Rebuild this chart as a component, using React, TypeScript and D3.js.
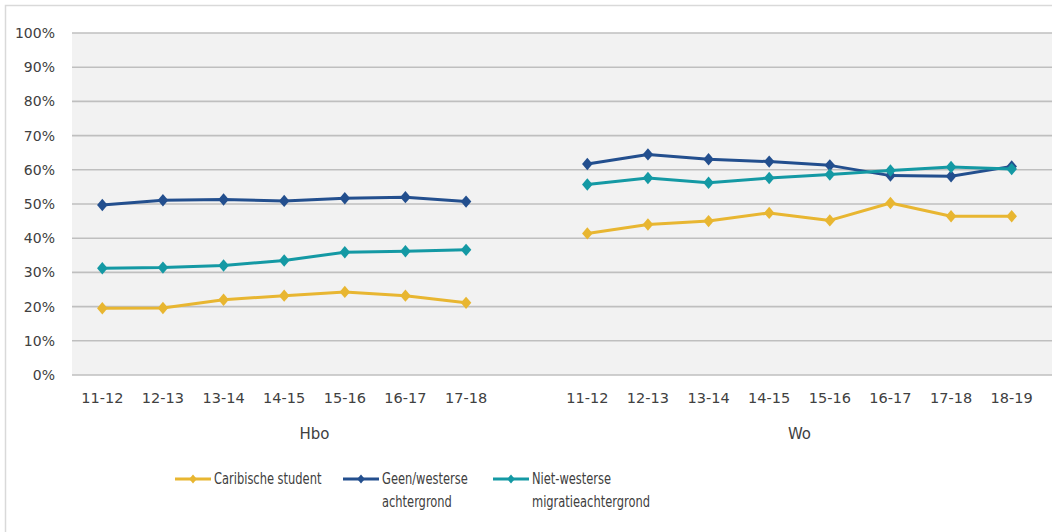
import React from "react";
import * as d3 from "d3";

const hboYears = ["11-12", "12-13", "13-14", "14-15", "15-16", "16-17", "17-18"];
const woYears = ["11-12", "12-13", "13-14", "14-15", "15-16", "16-17", "17-18", "18-19"];
const groups = ["Hbo", "Wo"];
const yTicks = [0, 10, 20, 30, 40, 50, 60, 70, 80, 90, 100];

const seriesNames = ["Caribische student", "Geen/westerse achtergrond", "Niet-westerse migratieachtergrond"];
const seriesColors = ["#E8B631", "#234F8E", "#1499A4"];

const caribHbo = [19.5, 19.6, 22.0, 23.2, 24.3, 23.2, 21.1];
const geenHbo = [49.7, 51.1, 51.3, 50.9, 51.7, 52.0, 50.7];
const nietHbo = [31.2, 31.4, 32.0, 33.5, 35.9, 36.2, 36.6];

const caribWo = [41.4, 44.0, 45.0, 47.4, 45.2, 50.3, 46.4, 46.4];
const geenWo = [61.7, 64.5, 63.1, 62.4, 61.3, 58.3, 58.1, 61.0];
const nietWo = [55.7, 57.6, 56.2, 57.6, 58.6, 59.8, 60.8, 60.2];

const W = 1052;
const H = 532;
const plotLeft = 72;
const plotRight = 1042;
const plotTop = 33;
const plotBottom = 375;
const textColor = "#404040";
const font = "'DejaVu Sans', sans-serif";
const narrowFont = "'DejaVu Sans Condensed', 'DejaVu Sans', sans-serif";

export default function App() {
  // slots: Hbo years, one blank slot, Wo years
  const slots = [
    ...hboYears.map((y) => "Hbo|" + y),
    "gap",
    ...woYears.map((y) => "Wo|" + y),
  ];
  const x = d3.scaleBand<string>().domain(slots).range([plotLeft, plotRight]);
  const cx = (k: string) => (x(k) as number) + x.bandwidth() / 2;
  const y = d3.scaleLinear().domain([0, 100]).range([plotBottom, plotTop]);

  const hboSeries = [caribHbo, geenHbo, nietHbo];
  const woSeries = [caribWo, geenWo, nietWo];

  const line = d3
    .line<[number, number]>()
    .x((d) => d[0])
    .y((d) => d[1]);

  const diamond = (px: number, py: number, r: number) =>
    `M${px},${py - r}L${px + r * 0.85},${py}L${px},${py + r}L${px - r * 0.85},${py}Z`;

  const renderSeries = (vals: number[], years: string[], grp: string, color: string, key: string) => {
    const pts: [number, number][] = vals.map((v, i) => [cx(grp + "|" + years[i]), y(v)]);
    return (
      <g key={key}>
        <path d={line(pts) || ""} fill="none" stroke={color} strokeWidth={3} strokeLinejoin="round" />
        {pts.map((p, i) => (
          <path key={i} d={diamond(p[0], p[1], 6.2)} fill={color} />
        ))}
      </g>
    );
  };

  const hboCenter = (cx("Hbo|" + hboYears[0]) + cx("gap")) / 2;
  const woCenter = (cx("Wo|" + woYears[0]) + cx("Wo|" + woYears[woYears.length - 1])) / 2;

  const legendItems = [
    { x: 175, lines: ["Caribische student"] },
    { x: 343, lines: ["Geen/westerse", "achtergrond"] },
    { x: 493, lines: ["Niet-westerse", "migratieachtergrond"] },
  ];

  return (
    <svg
      width={W}
      height={H}
      style={{ position: "fixed", left: 0, top: 0, background: "#fff" }}
      fontFamily={font}
    >
      <rect x={5.5} y={5.5} width={W + 20} height={H + 20} fill="#fff" stroke="#D9D9D9" strokeWidth={1.5} />
      <rect x={plotLeft} y={plotTop} width={W - plotLeft} height={plotBottom - plotTop} fill="#F2F2F2" />
      {yTicks.map((t) => (
        <g key={t}>
          <line x1={plotLeft} x2={W} y1={y(t)} y2={y(t)} stroke="#BFBFBF" strokeWidth={1.6} />
          <text x={55} y={y(t)} dy="0.36em" textAnchor="end" fontSize={14} fill={textColor}>
            {t}%
          </text>
        </g>
      ))}
      {hboYears.map((yr) => (
        <text key={"h" + yr} x={cx("Hbo|" + yr)} y={398} dy="0.36em" textAnchor="middle" fontSize={14.5} fill={textColor}>
          {yr}
        </text>
      ))}
      {woYears.map((yr) => (
        <text key={"w" + yr} x={cx("Wo|" + yr)} y={398} dy="0.36em" textAnchor="middle" fontSize={14.5} fill={textColor}>
          {yr}
        </text>
      ))}
      <text x={hboCenter} y={434} dy="0.36em" textAnchor="middle" fontSize={15} fill={textColor}>
        {groups[0]}
      </text>
      <text x={woCenter} y={434} dy="0.36em" textAnchor="middle" fontSize={15} fill={textColor}>
        {groups[1]}
      </text>
      {seriesNames.map((_, si) => renderSeries(hboSeries[si], hboYears, "Hbo", seriesColors[si], "h" + si))}
      {seriesNames.map((_, si) => renderSeries(woSeries[si], woYears, "Wo", seriesColors[si], "w" + si))}
      {legendItems.map((it, i) => (
        <g key={i}>
          <line x1={it.x} x2={it.x + 36} y1={479} y2={479} stroke={seriesColors[i]} strokeWidth={3} />
          <path d={diamond(it.x + 18, 479, 4.5)} fill={seriesColors[i]} />
          {it.lines.map((l, j) => (
            <text
              key={j}
              transform={`translate(${it.x + 39},${479 + j * 22.5}) scale(0.85,1)`}
              dy="0.36em"
              fontSize={15}
              fontFamily={narrowFont}
              fill={textColor}
            >
              {l}
            </text>
          ))}
        </g>
      ))}
    </svg>
  );
}
